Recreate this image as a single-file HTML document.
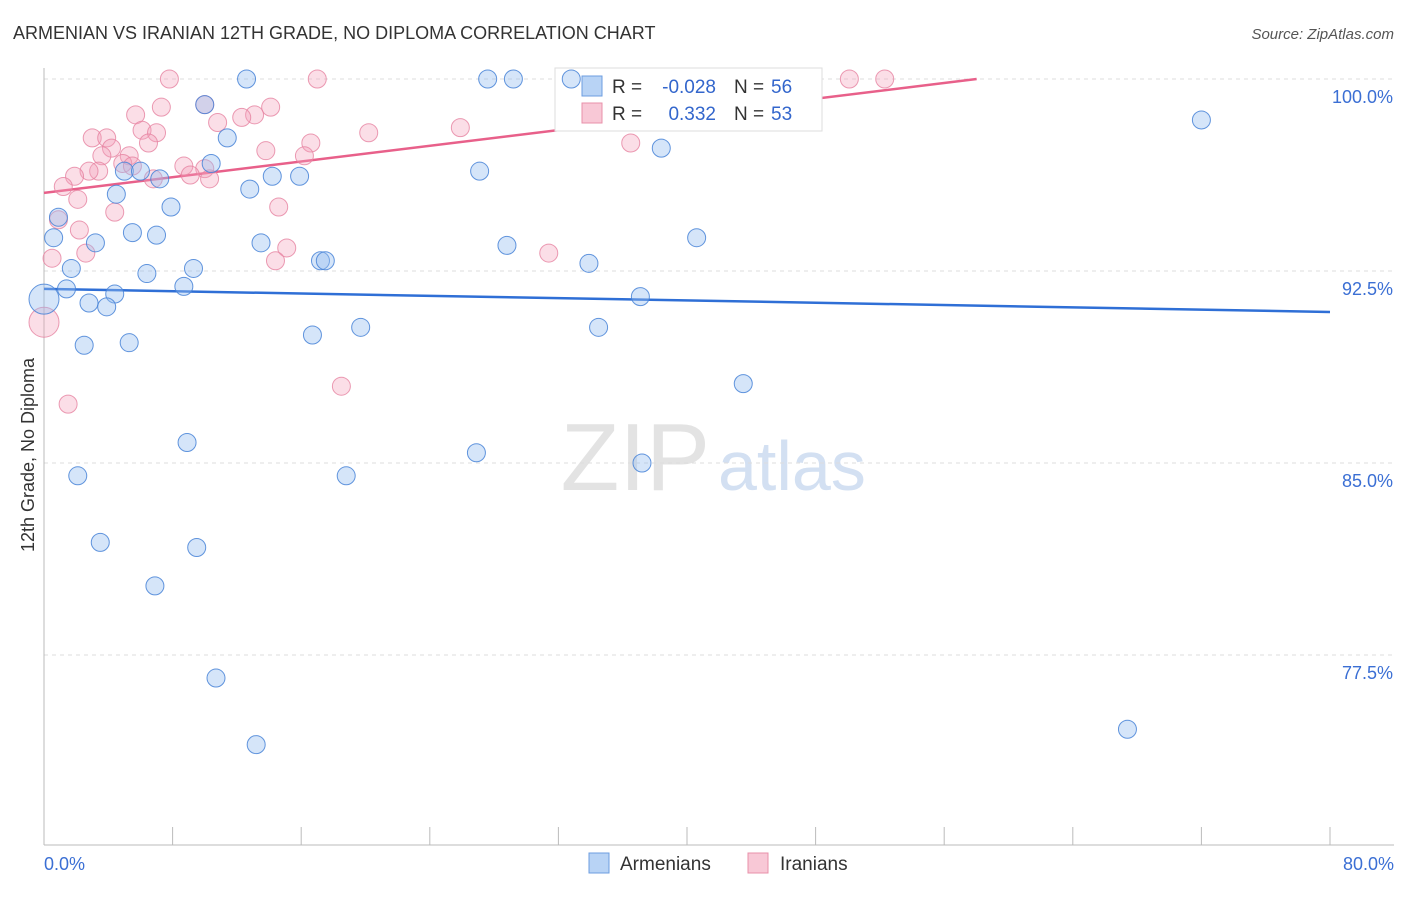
<!DOCTYPE html>
<html><head><meta charset="utf-8"><style>
body{margin:0;background:#fff;font-family:"Liberation Sans",sans-serif;}
svg text{font-family:"Liberation Sans",sans-serif;}
</style></head><body>
<svg id="c" width="1406" height="892">
<text x="13" y="39" font-size="18" fill="#333">ARMENIAN VS IRANIAN 12TH GRADE, NO DIPLOMA CORRELATION CHART</text>
<text x="1394" y="39" font-size="15" fill="#555" font-style="italic" text-anchor="end">Source: ZipAtlas.com</text>
<text x="710" y="490" font-size="96" fill="#e3e3e3" font-family="Liberation Serif" text-anchor="end">ZIP</text>
<text x="718" y="490" font-size="70" fill="#d3e0f2">atlas</text>
<text transform="translate(34,455) rotate(-90)" font-size="18" fill="#333" text-anchor="middle">12th Grade, No Diploma</text>
<g id="grid"></g><g id="lines"></g>
<g>
<rect x="555" y="68" width="267" height="63" fill="#fff" stroke="#ddd"/>
<rect x="582" y="76" width="20" height="20" fill="#b8d3f5" stroke="#6c9ee0"/>
<text x="612" y="93" font-size="19" fill="#333">R =</text>
<text x="716" y="93" font-size="19" fill="#3366cc" text-anchor="end">-0.028</text>
<text x="734" y="93" font-size="19" fill="#333">N =</text>
<text x="771" y="93" font-size="19" fill="#3366cc">56</text>
<rect x="582" y="103" width="20" height="20" fill="#f8c8d6" stroke="#e890aa"/>
<text x="612" y="120" font-size="19" fill="#333">R =</text>
<text x="716" y="120" font-size="19" fill="#3366cc" text-anchor="end">0.332</text>
<text x="734" y="120" font-size="19" fill="#333">N =</text>
<text x="771" y="120" font-size="19" fill="#3366cc">53</text>
</g>
<g id="pts"></g>
<g>
<rect x="589" y="853" width="20" height="20" fill="#b8d3f5" stroke="#6c9ee0"/>
<text x="620" y="870" font-size="19" fill="#333">Armenians</text>
<rect x="748" y="853" width="20" height="20" fill="#f8c8d6" stroke="#e890aa"/>
<text x="780" y="870" font-size="19" fill="#333">Iranians</text>
</g>
</svg>
<script>
const blueX=[12.6,27.6,29.2,32.8,72.0,10.0,11.4,38.4,10.4,5.0,6.0,7.2,14.2,15.9,27.1,12.8,4.5,7.9,0.9,0.6,3.2,5.5,7.0,13.5,28.8,40.6,1.7,6.4,9.3,17.2,17.5,33.9,1.4,8.7,4.4,2.8,3.9,37.1,16.7,19.7,34.5,2.5,5.3,43.5,8.9,26.9,37.2,2.1,18.8,3.5,9.5,6.9,10.7,13.2,67.4,0.0];
const blueY=[100,100,100,100,98.4,99.0,97.7,97.3,96.7,96.4,96.4,96.1,96.2,96.2,96.4,95.7,95.5,95.0,94.6,93.8,93.6,94.0,93.9,93.6,93.5,93.8,92.6,92.4,92.6,92.9,92.9,92.8,91.8,91.9,91.6,91.25,91.1,91.5,90.0,90.3,90.3,89.6,89.7,88.1,85.8,85.4,85.0,84.5,84.5,81.9,81.7,80.2,76.6,74.0,74.6,91.4];
const pinkX=[7.8,17.0,50.1,52.3,10.0,7.3,5.7,14.1,13.1,10.8,12.3,6.1,7.0,20.2,25.9,3.0,3.9,4.2,6.5,16.6,13.8,36.5,3.6,5.3,16.2,8.7,4.9,3.4,2.8,1.9,5.5,10.0,9.1,6.8,10.3,1.2,2.1,4.4,14.6,0.9,2.2,2.6,15.1,14.4,31.4,0.5,0.0,18.5,1.5];
const pinkY=[100,100,100,100,99.0,98.9,98.6,98.9,98.6,98.3,98.5,98.0,97.9,97.9,98.1,97.7,97.7,97.3,97.5,97.5,97.2,97.5,97.0,97.0,97.0,96.6,96.7,96.4,96.4,96.2,96.6,96.5,96.25,96.1,96.1,95.8,95.3,94.8,95.0,94.5,94.1,93.2,93.4,92.9,93.2,93.0,90.5,88.0,87.3];
const yTicks=[100,92.5,85,77.5];
const blueTrend=[91.8,90.9];
const pinkTrend=[95.55,0.0767];
const NS="http://www.w3.org/2000/svg";
const X=v=>44+v*16.075, Y=v=>79+(100-v)*25.6;
function mk(t,a,p){const e=document.createElementNS(NS,t);for(const k in a)e.setAttribute(k,a[k]);p.appendChild(e);return e;}
const grid=document.getElementById('grid');
yTicks.forEach(t=>{
const l=mk('line',{x1:44,x2:1394,y1:Y(t),y2:Y(t),stroke:'#ddd','stroke-dasharray':'4,4'},grid);


const tx=mk('text',{x:1393,y:Y(t)+24,'font-size':18,fill:'#3b6fd4','text-anchor':'end'},grid);
tx.textContent=t.toFixed(1)+'%';


});
mk('line',{x1:44,x2:44,y1:68,y2:845,stroke:'#bbb'},grid);
mk('line',{x1:44,x2:1394,y1:845,y2:845,stroke:'#bbb'},grid);
for(let i=0;i<=10;i++){mk('line',{x1:44+i*128.6,x2:44+i*128.6,y1:827,y2:845,stroke:'#bbb'},grid);}
const x0=mk('text',{x:44,y:870,'font-size':18,fill:'#3b6fd4'},grid);x0.textContent='0.0%';


const x1=mk('text',{x:1394,y:870,'font-size':18,fill:'#3b6fd4','text-anchor':'end'},grid);x1.textContent='80.0%';


const pts=document.getElementById('pts');
pinkX.forEach((v,i)=>{const c=mk('circle',{cx:X(v),cy:Y(pinkY[i]),r:(v===0?15:9),fill:'rgba(244,160,186,0.35)',stroke:'rgba(230,130,160,0.8)','stroke-width':1},pts);

});
blueX.forEach((v,i)=>{const c=mk('circle',{cx:X(v),cy:Y(blueY[i]),r:(v===0?15:9),fill:'rgba(150,190,240,0.4)',stroke:'rgba(70,130,215,0.85)','stroke-width':1},pts);

});
const lines=document.getElementById('lines');
const bl=mk('line',{x1:X(0),y1:Y(blueTrend[0]),x2:X(80),y2:Y(blueTrend[1]),stroke:'#2f6fd6','stroke-width':2.5},lines);


const xe=(100-pinkTrend[0])/pinkTrend[1];
const pl=mk('line',{x1:X(0),y1:Y(pinkTrend[0]),x2:X(xe),y2:Y(100),stroke:'#e8608a','stroke-width':2.5},lines);


</script>
</body></html>
